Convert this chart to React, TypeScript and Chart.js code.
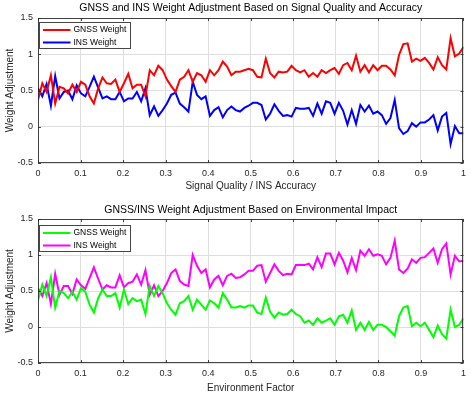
import React, { useEffect, useRef } from 'react';
import { Chart, registerables } from 'chart.js';

Chart.register(...registerables);

const N_POINTS = 100;
const X_VALUES = Array.from({ length: N_POINTS }, (_, i) => i / (N_POINTS - 1));
const X_TICKS = [0, 0.1, 0.2, 0.3, 0.4, 0.5, 0.6, 0.7, 0.8, 0.9, 1];
const Y_TICKS = [-0.5, 0, 0.5, 1, 1.5];

const TITLE_TOP = 'GNSS and INS Weight Adjustment Based on Signal Quality and Accuracy';
const TITLE_BOTTOM = 'GNSS/INS Weight Adjustment Based on Environmental Impact';
const XLABEL_TOP = 'Signal Quality / INS Accuracy';
const XLABEL_BOTTOM = 'Environment Factor';
const YLABEL = 'Weight Adjustment';
const LEGEND_LABELS = ['GNSS Weight', 'INS Weight'];

const GNSS_SIGNAL = [
  0.37, 0.60, 0.48, 0.71, 0.32, 0.55, 0.53, 0.46, 0.58, 0.48,
  0.62, 0.58, 0.42, 0.32, 0.53, 0.68, 0.60, 0.59, 0.65, 0.48,
  0.60, 0.73, 0.53, 0.58, 0.58, 0.42, 0.78, 0.71, 0.84, 0.78,
  0.65, 0.56, 0.48, 0.65, 0.69, 0.78, 0.62, 0.74, 0.71, 0.62,
  0.78, 0.71, 0.78, 0.90, 0.83, 0.71, 0.76, 0.76, 0.78, 0.80,
  0.78, 0.69, 0.68, 0.94, 0.74, 0.68, 0.76, 0.75, 0.76, 0.84,
  0.78, 0.75, 0.78, 0.69, 0.74, 0.69, 0.78, 0.74, 0.78, 0.81,
  0.73, 0.85, 0.88, 0.78, 0.98, 0.76, 0.85, 0.75, 0.85, 0.78,
  0.84, 0.84, 0.79, 0.71, 0.99, 1.14, 1.15, 0.90, 0.94, 0.91,
  0.95, 0.88, 0.79, 0.96, 0.85, 0.79, 1.22, 0.97, 1.01, 1.10,
];

const INS_SIGNAL = [
  0.53, 0.42, 0.59, 0.29, 0.70, 0.39, 0.48, 0.50, 0.38, 0.57,
  0.46, 0.42, 0.55, 0.69, 0.54, 0.39, 0.42, 0.38, 0.38, 0.48,
  0.35, 0.39, 0.39, 0.48, 0.35, 0.53, 0.16, 0.28, 0.15, 0.23,
  0.32, 0.44, 0.47, 0.32, 0.27, 0.21, 0.62, 0.44, 0.38, 0.42,
  0.15, 0.23, 0.27, 0.13, 0.23, 0.28, 0.23, 0.21, 0.26, 0.29,
  0.33, 0.33, 0.30, 0.10, 0.18, 0.31, 0.22, 0.15, 0.16, 0.14,
  0.26, 0.25, 0.25, 0.26, 0.15, 0.32, 0.18, 0.35, 0.33, 0.18,
  0.33, 0.22, 0.03, 0.23, 0.04, 0.30, 0.21, 0.29, 0.18, 0.21,
  0.16, 0.04, 0.12, 0.37, -0.02, -0.10, -0.06, 0.05, 0.00, 0.06,
  0.06, 0.10, 0.16, -0.05, 0.14, 0.19, -0.24, 0.01, -0.09, -0.09,
];

const GNSS_ENV = [
  0.37, 0.59, 0.43, 0.69, 0.27, 0.50, 0.47, 0.40, 0.49, 0.38,
  0.54, 0.49, 0.31, 0.20, 0.40, 0.52, 0.43, 0.43, 0.47, 0.27,
  0.52, 0.32, 0.40, 0.36, 0.38, 0.18, 0.57, 0.43, 0.57, 0.47,
  0.33, 0.24, 0.17, 0.33, 0.36, 0.43, 0.24, 0.38, 0.31, 0.24,
  0.37, 0.33, 0.27, 0.47, 0.38, 0.27, 0.27, 0.29, 0.27, 0.30,
  0.30, 0.20, 0.18, 0.41, 0.21, 0.13, 0.20, 0.17, 0.18, 0.24,
  0.18, 0.15, 0.06, 0.09, 0.03, 0.12, 0.06, 0.09, 0.12, 0.03,
  0.15, 0.17, 0.06, 0.23, -0.04, 0.06, -0.04, 0.07, -0.04, 0.03,
  0.03, 0.00, -0.06, -0.12, 0.15, 0.27, 0.29, 0.01, 0.06, 0.01,
  0.06, -0.04, -0.14, 0.02, -0.10, -0.16, 0.24, 0.00, 0.03, 0.12,
];

const INS_ENV = [
  0.54, 0.43, 0.61, 0.32, 0.74, 0.45, 0.57, 0.57, 0.46, 0.66,
  0.58, 0.53, 0.68, 0.83, 0.67, 0.52, 0.58, 0.55, 0.55, 0.72,
  0.55, 0.61, 0.63, 0.73, 0.59, 0.79, 0.45, 0.58, 0.43, 0.50,
  0.61, 0.75, 0.80, 0.64, 0.59, 0.57, 1.00, 0.85, 0.75, 0.80,
  0.55, 0.66, 0.71, 0.58, 0.71, 0.74, 0.68, 0.69, 0.73, 0.78,
  0.78, 0.85, 0.86, 0.63, 0.75, 0.87, 0.78, 0.72, 0.74, 0.73,
  0.86, 0.86, 0.86, 0.88, 0.80, 0.97, 0.83, 1.02, 1.02, 0.87,
  1.03, 0.92, 0.76, 0.96, 0.79, 1.06, 0.99, 1.08, 0.99, 1.01,
  0.99, 0.87, 0.96, 1.20, 0.80, 0.75, 0.81, 0.94, 0.89, 0.96,
  0.97, 1.03, 1.09, 0.89, 1.08, 1.16, 0.73, 0.99, 0.91, 0.92,
];

const FONT = '"Liberation Sans", Arial, Helvetica, sans-serif';
const AXIS_COLOR = '#262626';

const framePlugin = {
  id: 'matlabFrame',
  afterDraw(chart: any, _args: any, opts: any) {
    const { ctx, chartArea: a } = chart;
    const xs = chart.scales.x;
    const ys = chart.scales.y;
    ctx.save();
    // box
    ctx.strokeStyle = 'rgba(38,38,38,0.85)';
    ctx.lineWidth = 1;
    ctx.strokeRect(Math.round(a.left) + 0.5, Math.round(a.top) + 0.5,
      Math.round(a.right - a.left) - 1, Math.round(a.bottom - a.top) - 1);
    // inward ticks
    ctx.beginPath();
    const tl = 3;
    xs.ticks.forEach((t: any) => {
      const px = Math.round(xs.getPixelForValue(t.value)) + 0.5;
      ctx.moveTo(px, a.bottom); ctx.lineTo(px, a.bottom - tl);
      ctx.moveTo(px, a.top); ctx.lineTo(px, a.top + tl);
    });
    ys.ticks.forEach((t: any) => {
      const py = Math.round(ys.getPixelForValue(t.value)) + 0.5;
      ctx.moveTo(a.left, py); ctx.lineTo(a.left + tl, py);
      ctx.moveTo(a.right, py); ctx.lineTo(a.right - tl, py);
    });
    ctx.stroke();
    // title
    ctx.fillStyle = '#000';
    ctx.font = `10.5px ${FONT}`;
    ctx.textAlign = 'center';
    ctx.textBaseline = 'middle';
    ctx.fillText(opts.title, (a.left + a.right) / 2, opts.titleY);
    // legend
    const bx = Math.round(a.left + 1) + 0.5;
    const by = Math.round(a.top + opts.legendDy) + 0.5;
    const bw = 91;
    const bh = 26;
    ctx.fillStyle = '#fff';
    ctx.fillRect(bx, by, bw, bh);
    ctx.strokeStyle = 'rgba(38,38,38,0.85)';
    ctx.lineWidth = 1;
    ctx.strokeRect(bx, by, bw, bh);
    chart.data.datasets.forEach((ds: any, i: number) => {
      const ry = by + 7.5 + i * 12.5;
      ctx.strokeStyle = ds.borderColor;
      ctx.lineWidth = 2;
      ctx.beginPath();
      ctx.moveTo(bx + 3.5, ry);
      ctx.lineTo(bx + 31, ry);
      ctx.stroke();
      ctx.fillStyle = '#000';
      ctx.font = `8.5px ${FONT}`;
      ctx.textAlign = 'left';
      ctx.textBaseline = 'middle';
      ctx.fillText(ds.label, bx + 34, ry);
    });
    ctx.restore();
  },
};

function fmt(v: number) {
  return String(Math.round(v * 10) / 10);
}

function makeConfig(p: any) {
  const tickFont = { family: FONT, size: 9 };
  const labelFont = { family: FONT, size: 10 };
  return {
    type: 'line',
    data: {
      datasets: p.series.map((s: any) => ({
        label: s.label,
        data: X_VALUES.map((x, i) => ({ x, y: s.values[i] })),
        borderColor: s.color,
        backgroundColor: s.color,
        borderWidth: 2,
        pointRadius: 0,
        tension: 0,
        fill: false,
      })),
    },
    options: {
      animation: false,
      responsive: false,
      devicePixelRatio: 1,
      layout: { padding: { top: p.padTop, left: 0, right: 6, bottom: 0 } },
      plugins: {
        legend: { display: false },
        title: { display: false },
        tooltip: { enabled: false },
        matlabFrame: { title: p.title, titleY: p.titleY, legendDy: p.legendDy },
      },
      scales: {
        x: {
          type: 'linear',
          min: 0,
          max: 1,
          afterBuildTicks: (s: any) => { s.ticks = X_TICKS.map((v) => ({ value: v })); },
          afterFit: (s: any) => { s.height = p.xHeight; },
          grid: { color: '#dedede', lineWidth: 1, drawTicks: false },
          border: { display: false },
          ticks: { padding: 5, color: AXIS_COLOR, font: tickFont, maxRotation: 0, autoSkip: false, callback: (v: any) => fmt(Number(v)) },
          title: { display: true, text: p.xLabel, color: AXIS_COLOR, font: labelFont, padding: { top: 0, bottom: p.xTitlePad } },
        },
        y: {
          type: 'linear',
          min: -0.5,
          max: 1.5,
          afterBuildTicks: (s: any) => { s.ticks = Y_TICKS.map((v) => ({ value: v })); },
          afterFit: (s: any) => { s.width = 38; },
          grid: { color: '#dedede', lineWidth: 1, drawTicks: false },
          border: { display: false },
          ticks: { padding: 5, color: AXIS_COLOR, font: tickFont, callback: (v: any) => fmt(Number(v)) },
          title: { display: true, text: YLABEL, color: AXIS_COLOR, font: labelFont, padding: { top: 4, bottom: 0 } },
        },
      },
    },
    plugins: [framePlugin],
  };
}

function Panel(props: any) {
  const ref = useRef<HTMLCanvasElement>(null);
  useEffect(() => {
    if (!ref.current) return;
    const chart = new Chart(ref.current, makeConfig(props.cfg) as any);
    return () => chart.destroy();
  }, []);
  return (
    <canvas
      ref={ref}
      width={471}
      height={props.height}
      style={{ display: 'block', width: 471, height: props.height }}
    />
  );
}

export default function App() {
  useEffect(() => {
    document.body.style.margin = '0';
    document.body.style.background = '#fff';
  }, []);
  const top = {
    title: TITLE_TOP,
    titleY: 8.5,
    padTop: 18,
    xHeight: 33,
    xLabel: XLABEL_TOP,
    xTitlePad: 3.4,
    legendDy: 3.5,
    series: [
      { label: LEGEND_LABELS[0], values: GNSS_SIGNAL, color: '#ff0000' },
      { label: LEGEND_LABELS[1], values: INS_SIGNAL, color: '#0000ff' },
    ],
  };
  const bottom = {
    title: TITLE_BOTTOM,
    titleY: 14,
    padTop: 23,
    xHeight: 33,
    xLabel: XLABEL_BOTTOM,
    xTitlePad: 1.4,
    legendDy: 5.5,
    series: [
      { label: LEGEND_LABELS[0], values: GNSS_ENV, color: '#00ff00' },
      { label: LEGEND_LABELS[1], values: INS_ENV, color: '#ff00ff' },
    ],
  };
  return (
    <div style={{ width: 471, height: 396, background: '#fff' }}>
      <Panel cfg={top} height={196} />
      <Panel cfg={bottom} height={200} />
    </div>
  );
}
